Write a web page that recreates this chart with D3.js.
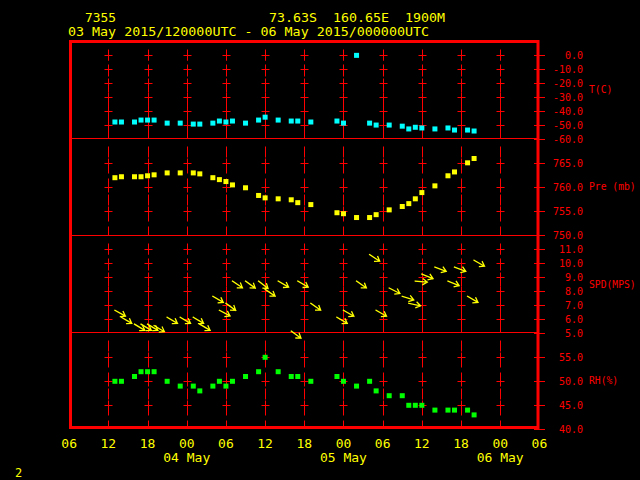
<!DOCTYPE html>
<html><head><meta charset="utf-8">
<script src="https://cdn.jsdelivr.net/npm/d3@7"></script>
<style>body{margin:0;background:#000}svg{display:block;background:#000}</style>
</head><body>
<svg id="c" width="640" height="480"></svg>
<script>
// ---- data ----
const times = ["2015-05-03T13","2015-05-03T14","2015-05-03T16","2015-05-03T17","2015-05-03T18","2015-05-03T19","2015-05-03T21","2015-05-03T23","2015-05-04T01","2015-05-04T02","2015-05-04T04","2015-05-04T05","2015-05-04T06","2015-05-04T07","2015-05-04T09","2015-05-04T11","2015-05-04T12","2015-05-04T14","2015-05-04T16","2015-05-04T17","2015-05-04T19","2015-05-04T23","2015-05-05T00","2015-05-05T02","2015-05-05T04","2015-05-05T05","2015-05-05T07","2015-05-05T09","2015-05-05T10","2015-05-05T11","2015-05-05T12","2015-05-05T14","2015-05-05T16","2015-05-05T17","2015-05-05T19","2015-05-05T20"];
const tempC = [-48.1,-48.1,-48.1,-46.7,-46.7,-46.7,-48.9,-48.9,-49.6,-49.6,-48.9,-47.4,-48.1,-47.4,-48.9,-46.7,-44.6,-46.7,-47.4,-47.4,-48.1,-47.4,-48.9,0.0,-48.9,-50.3,-50.3,-51.1,-53.1,-51.9,-52.4,-53.1,-52.4,-53.9,-53.9,-54.6];
const presMb = [762.0,762.2,762.2,762.2,762.4,762.6,763.0,763.0,763.0,762.8,762.0,761.6,761.2,760.5,759.9,758.3,757.8,757.6,757.4,756.8,756.4,754.7,754.5,753.7,753.7,754.3,755.3,756.0,756.6,757.6,758.9,760.3,762.4,763.2,765.1,766.0];
const windSpd = [6.6,6.1,5.6,5.6,5.6,5.5,6.1,6.1,6.1,5.6,7.6,6.6,7.1,8.7,8.7,8.7,8.1,8.7,5.1,8.7,7.1,6.1,6.6,8.7,10.6,6.6,8.2,7.6,7.1,8.7,9.2,9.7,8.7,9.7,7.6,10.2];
const windDir = [299,301,301,301,301,301,301,301,301,301,300,298,306,304,306,308,304,300,306,300,305,301,300,305,303,300,297,287,282,275,292,290,292,290,300,300];
const rhPct = [50,50,51,52,52,52,50,49,49,48,49,50,49,50,51,52,55,52,51,51,50,51,50,49,50,48,47,47,45,45,45,44,44,44,44,43];

const tTicks = [0,-10,-20,-30,-40,-50,-60];
const pTicks = [750,755,760,765];
const wTicks = [5,6,7,8,9,10,11];
const rhTicks = [40,45,50,55];
const unitLabels = ["T(C)","Pre (mb)","SPD(MPS)","RH(%)"];
const stationId = "7355";
const stationLoc = "73.63S  160.65E  1900M";
const periodText = "03 May 2015/120000UTC - 06 May 2015/000000UTC";
const pageNo = "2";

// ---- drawing ----
const RED = "#ff0000", YEL = "#ffff00";
const FONT = "'DejaVu Sans Mono', 'Liberation Mono', monospace";
const svg = d3.select("#c");
const parse = d3.utcParse("%Y-%m-%dT%H");
const tDates = times.map(parse);

const x = d3.scaleUtc()
  .domain([Date.UTC(2015,4,3,6), Date.UTC(2015,4,6,6)])
  .range([69.2, 539.4]);

const yT = d3.scaleLinear([-60,10],[138.5,41.5]);
const yP = d3.scaleLinear([750,770],[235.3,139.3]);
const yW = d3.scaleLinear([5,12],[332.5,235.2]);
const yRH = d3.scaleLinear([40,60],[429.3,333.3]);

const panels = [
  {top:41.5, bot:138.5, y:yT, ticks:tTicks, unit:unitLabels[0], uy:93},
  {top:138.5, bot:235.5, y:yP, ticks:pTicks, unit:unitLabels[1], uy:190},
  {top:235.5, bot:332.5, y:yW, ticks:wTicks, unit:unitLabels[2], uy:288},
  {top:332.5, bot:427.5, y:yRH, ticks:rhTicks, unit:unitLabels[3], uy:384}
];

// vertical grid lines every 6 h
const gridTimes = d3.utcHour.every(6).range(new Date(Date.UTC(2015,4,3,12)), new Date(Date.UTC(2015,4,6,1)));
const grid = svg.append("g").attr("stroke", RED).attr("stroke-width", 1);
gridTimes.forEach(t => {
  const gx = Math.round(x(t)) + 0.5;
  panels.forEach(p => {
    grid.append("line").attr("x1", gx).attr("x2", gx)
      .attr("y1", p.top + 8).attr("y2", p.bot)
      .attr("stroke-dasharray", "11,5");
    p.ticks.forEach(v => {
      const yy = Math.round(p.y(v)) + 0.5;
      if (yy <= p.top + 2 || yy >= p.bot - 2) return;
      grid.append("line").attr("x1", gx - 4).attr("x2", gx + 4).attr("y1", yy).attr("y2", yy);
      grid.append("line").attr("x1", gx).attr("x2", gx).attr("y1", yy - 5).attr("y2", yy + 5);
    });
  });
});

// panel separators
[138.5, 235.5, 332.5].forEach(yy => {
  svg.append("line").attr("x1", 70.5).attr("x2", 538).attr("y1", yy).attr("y2", yy)
    .attr("stroke", RED).attr("stroke-width", 1);
});

// frame
svg.append("rect").attr("x", 70.5).attr("y", 41.5).attr("width", 467.5).attr("height", 386)
  .attr("fill", "none").attr("stroke", RED).attr("stroke-width", 3);

// right axes
const ax = svg.append("g");
panels.forEach(p => {
  p.ticks.forEach(v => {
    const yy = Math.round(p.y(v)) + 0.5;
    ax.append("line").attr("x1", 534).attr("x2", 545).attr("y1", yy).attr("y2", yy)
      .attr("stroke", RED).attr("stroke-width", 1);
    ax.append("text").attr("x", 583).attr("y", yy + 3.6).attr("text-anchor", "end")
      .attr("fill", RED).attr("font-family", FONT).attr("font-size", 10)
      .text(v.toFixed(1));
  });
  ax.append("text").attr("x", 589).attr("y", p.uy).attr("fill", RED)
    .attr("font-family", FONT).attr("font-size", 9.7).attr("xml:space", "preserve")
    .text(p.unit);
});

// temperature squares
svg.append("g").attr("fill", "#00ffff").selectAll("rect").data(tempC).join("rect")
  .attr("x", (d,i) => x(tDates[i]) - 2.5).attr("y", d => yT(d) - 2.5)
  .attr("width", 5).attr("height", 5);

// pressure squares
svg.append("g").attr("fill", YEL).selectAll("rect").data(presMb).join("rect")
  .attr("x", (d,i) => x(tDates[i]) - 2.5).attr("y", d => yP(d) - 2.5)
  .attr("width", 5).attr("height", 5);

// RH squares
svg.append("g").attr("fill", "#00ff00").selectAll("rect").data(rhPct).join("rect")
  .attr("x", (d,i) => x(tDates[i]) - 2.5).attr("y", d => yRH(d) - 2.5)
  .attr("width", 5).attr("height", 5);

// wind arrows: tail at (time, speed), pointing downwind
const wg = svg.append("g").attr("stroke", YEL).attr("stroke-width", 1.3).attr("fill", "none")
  .attr("stroke-linecap", "square");
windSpd.forEach((s, i) => {
  const x0 = x(tDates[i]), y0 = yW(s);
  const toRad = (windDir[i] - 180) * Math.PI / 180;
  const dx = Math.sin(toRad), dy = -Math.cos(toRad);
  const L = 12, H = 5;
  const x1 = x0 + dx * L, y1 = y0 + dy * L;
  const back = Math.atan2(-dy, -dx);
  const a1 = back + 0.6, a2 = back - 0.6;
  wg.append("path").attr("d",
    `M${x0},${y0}L${x1},${y1}` +
    `M${x1 + Math.cos(a1)*H},${y1 + Math.sin(a1)*H}L${x1},${y1}L${x1 + Math.cos(a2)*H},${y1 + Math.sin(a2)*H}`);
});

// x axis labels
const labTimes = d3.utcHour.every(6).range(new Date(Date.UTC(2015,4,3,6)), new Date(Date.UTC(2015,4,6,7)));
const fmtH = d3.utcFormat("%H"), fmtD = d3.utcFormat("%d %b");
svg.append("g").selectAll("text").data(labTimes).join("text")
  .attr("x", d => x(d)).attr("y", 448).attr("text-anchor", "middle")
  .attr("fill", YEL).attr("font-family", FONT).attr("font-size", 13)
  .text(d => fmtH(d));
svg.append("g").selectAll("text").data(labTimes.filter(d => d.getUTCHours() === 0)).join("text")
  .attr("x", d => x(d)).attr("y", 462).attr("text-anchor", "middle")
  .attr("fill", YEL).attr("font-family", FONT).attr("font-size", 13)
  .text(d => fmtD(d));

// header
const hdr = (txt, xx, yy, w) => {
  const t = svg.append("text").attr("x", xx).attr("y", yy)
    .attr("fill", YEL).attr("font-family", FONT).attr("font-size", 12)
    .attr("xml:space", "preserve").style("white-space", "pre").text(txt);
  if (w) t.attr("textLength", w).attr("lengthAdjust", "spacingAndGlyphs");
  return t;
};
hdr(stationId, 85, 21.5, 31);
hdr(stationLoc, 269, 21.5, 176);
hdr(periodText, 68, 35.5, 361);
hdr(pageNo, 15, 477);
</script>
</body></html>
